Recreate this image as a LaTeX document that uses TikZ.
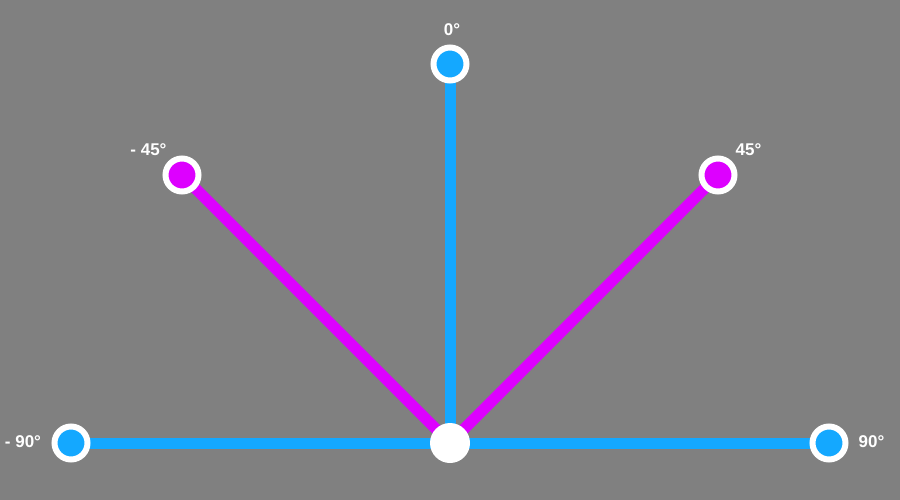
\documentclass[tikz,border=0pt]{standalone}
\usepackage{fontspec}
\setmainfont{Liberation Sans}
\usetikzlibrary{backgrounds}
\definecolor{bg}{HTML}{808080}
\definecolor{sky}{HTML}{14A8FF}
\definecolor{mag}{HTML}{DD00FF}
\begin{document}
\begin{tikzpicture}[x=1pt,y=-1pt,
  ray/.style={line width=11pt},
  endpt/.style={circle,draw=white,line width=6pt,minimum size=33pt,inner sep=0pt},
  lbl/.style={text=white,font=\bfseries\fontsize{17}{17}\selectfont,inner sep=0pt}]
\useasboundingbox (0,0) rectangle (900,500);
\node[circle,fill=white,minimum size=40pt,inner sep=0pt] (hub) at (450,443) {};
\node[endpt,fill=sky] (top) at (450,64) {};
\node[endpt,fill=sky] (left) at (71,443) {};
\node[endpt,fill=sky] (right) at (829,443) {};
\node[endpt,fill=mag] (ul) at (182,175) {};
\node[endpt,fill=mag] (ur) at (718,175) {};
\node[lbl] (l0) at (452,30) {0°};
\node[lbl] (lm45) at (148.5,150) {- 45°};
\node[lbl] (l45) at (748.5,150) {45°};
\node[lbl] (lm90) at (23,441.5) {- 90°};
\node[lbl] (l90) at (871.5,441.5) {90°};
\begin{scope}[on background layer]
\fill[bg] (0,0) rectangle (900,500);
\draw[ray,mag] (hub.center) -- (ul.center);
\draw[ray,mag] (hub.center) -- (ur.center);
\draw[ray,sky] (hub.center) -- (top.center);
\draw[ray,sky] (hub.center) -- (left.center);
\draw[ray,sky] (hub.center) -- (right.center);
\end{scope}
\end{tikzpicture}
\end{document}
